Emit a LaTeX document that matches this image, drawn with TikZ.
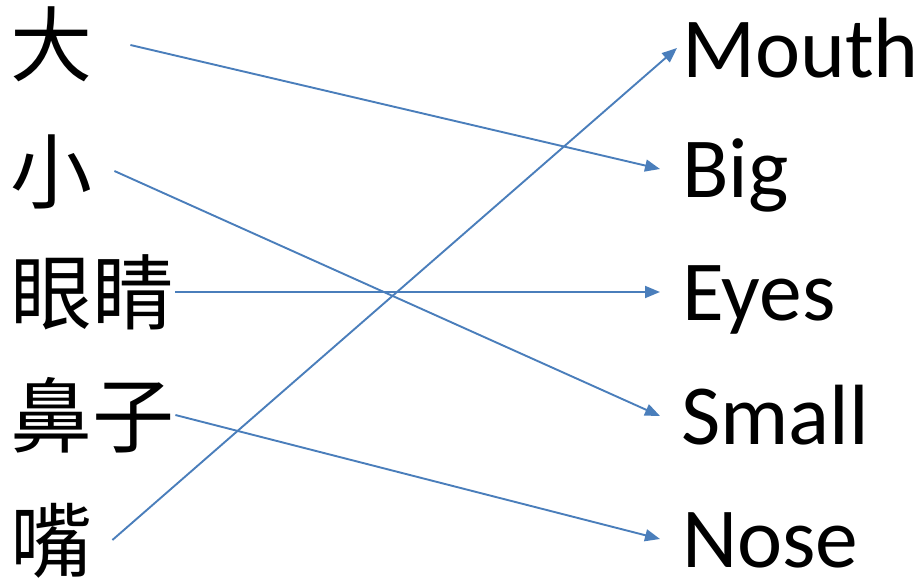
\documentclass[tikz,border=0pt]{standalone}
\usepackage{fontspec}
\setmainfont{Carlito}
\newfontfamily\cjk{Noto Sans CJK SC}
\usepackage{xcolor}
\usetikzlibrary{arrows.meta}
\definecolor{lineblue}{RGB}{74,126,187}

\begin{document}
\begin{tikzpicture}[x=1pt, y=-1pt]
    \tikzstyle{zh} = [anchor=base west, inner sep=0pt, font=\cjk\fontsize{82}{82}\selectfont]
    \tikzstyle{en} = [anchor=base west, inner sep=0pt, font=\fontsize{85.5}{86}\selectfont]
    \tikzstyle{link} = [draw=lineblue, line width=1.9pt, -{Triangle[length=15pt,width=12pt]}]
    \useasboundingbox (0,0) rectangle (917,580);

    % Chinese words
    \node [zh] (da) at (10,76) {大};
    \node [zh] (xiao) at (10,202) {小};
    \node [zh] (yanjing) at (10,323) {眼睛};
    \node [zh] (bizi) at (10,446) {鼻子};
    \node [zh] (zui) at (10,571) {嘴};

    % English words
    \node [en] (mouth) at (682,78) {Mouth};
    \node [en] (big) at (682,197) {Big};
    \node [en] (eyes) at (682,320) {Eyes};
    \node [en] (small) at (681,444) {Small};
    \node [en] (nose) at (682,567) {Nose};

    % Links
    \draw [link] ([xshift=38pt, yshift=31pt]da.base east) -- ([xshift=-22pt, yshift=28pt]big.base west);
    \draw [link] ([xshift=22pt, yshift=31pt]xiao.base east) -- ([xshift=-21pt, yshift=28pt]small.base west);
    \draw [link] ([xshift=1pt, yshift=31pt]yanjing.base east) -- ([xshift=-22pt, yshift=28pt]eyes.base west);
    \draw [link] ([xshift=1pt, yshift=31pt]bizi.base east) -- ([xshift=-22pt, yshift=28pt]nose.base west);
    \draw [link] ([xshift=20pt, yshift=31pt]zui.base east) -- ([xshift=-5pt, yshift=30pt]mouth.base west);
\end{tikzpicture}
\end{document}
